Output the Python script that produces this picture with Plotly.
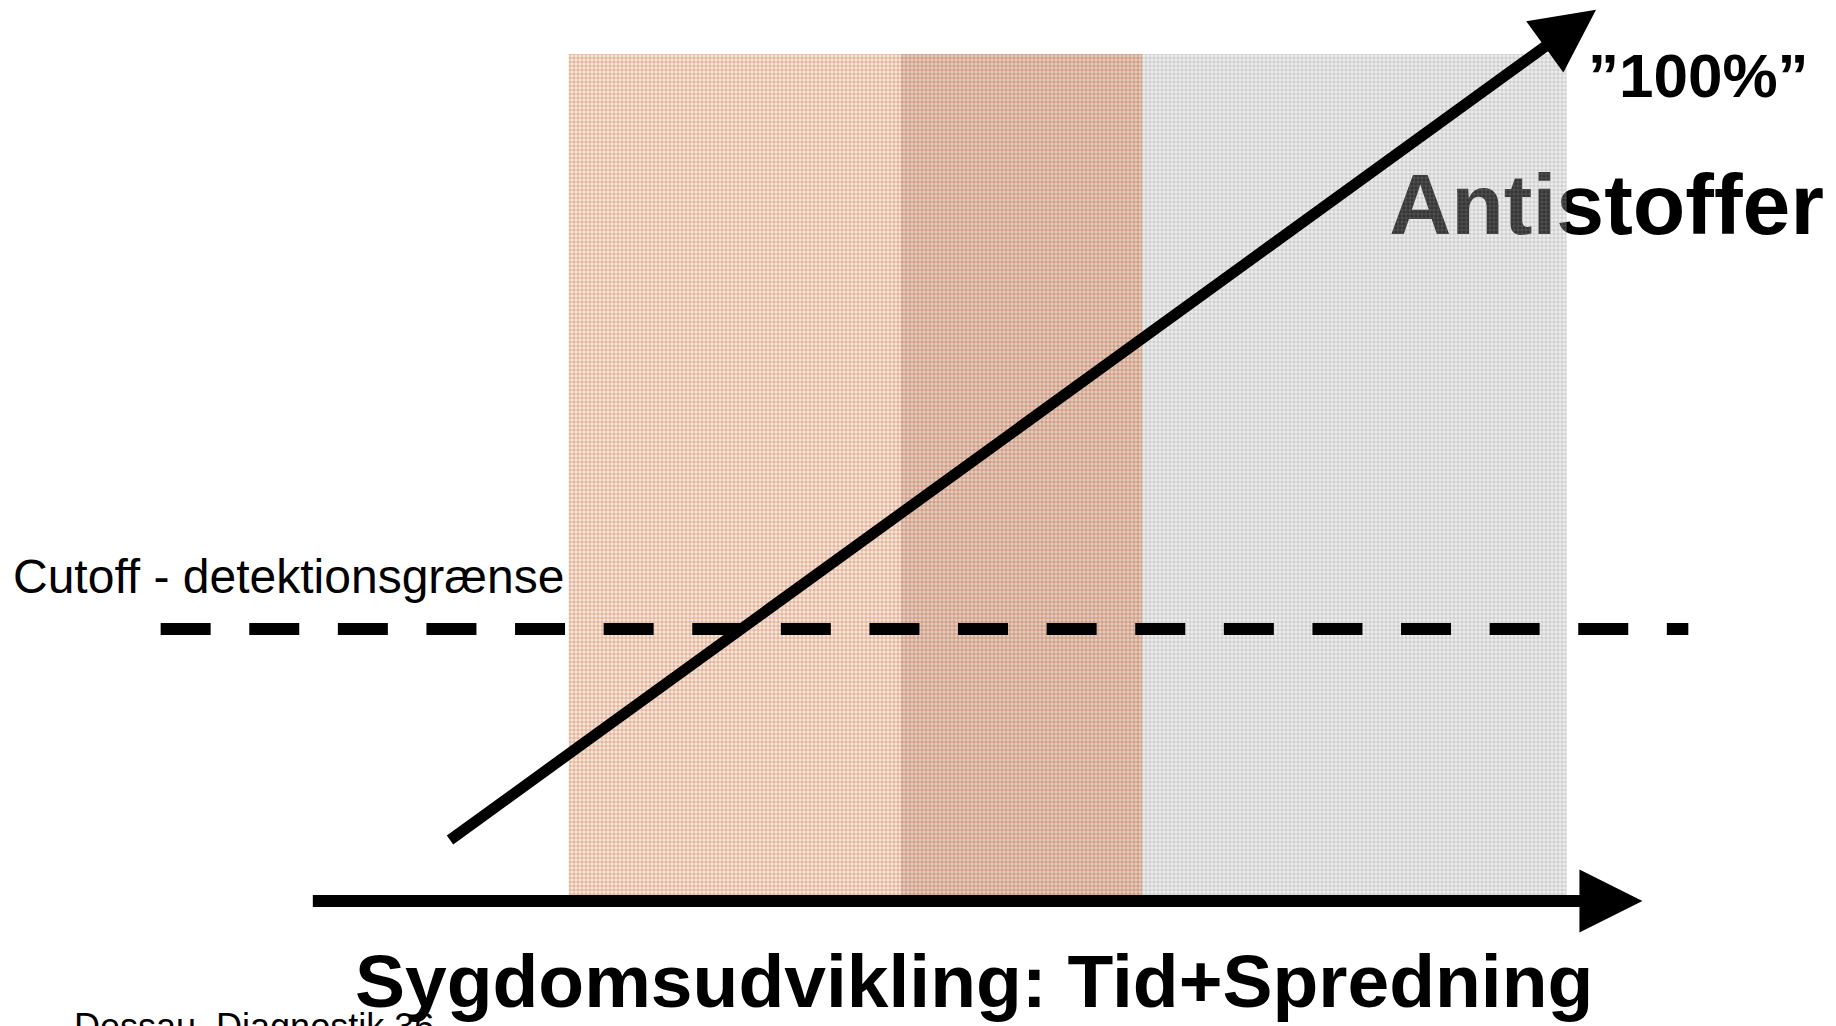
import plotly.graph_objects as go

# ---- data (time units on x, antibody level in % on y) ----
phase_start = [0.0, 3.33, 5.75]
phase_end = [3.33, 5.75, 10.0]
phase_top = [100, 100, 100]

antibody_time = [-1.205, 10.295]     # tail, tip of the antibody arrow
antibody_level = [7.08, 105.24]

time_axis_time = [-2.58, 10.76]      # tail, tip of the time axis arrow
time_axis_level = [0.0, 0.0]

cutoff_time = [-4.09, 11.22]
cutoff_level = [32.1, 32.1]

label_cutoff = "Cutoff - detektionsgrænse"
label_100 = "\u201d100%\u201d"
label_antibody = "Antistoffer"
label_xaxis = "Sygdomsudvikling: Tid+Spredning"
label_footer = "Dessau, Diagnostik 36"

# ---- styles ----
FONT = "Liberation Sans, Arial, Helvetica, sans-serif"
phase_fg = ["#bf5a2c", "#a44820", "#8a8a8a"]
phase_fgop = [0.6, 0.6, 0.5]
phase_bg = ["rgba(238,196,170,0.42)", "rgba(200,142,110,0.45)", "rgba(190,190,190,0.28)"]

X_RANGE = [-5.7, 12.7]
Y_RANGE = [-14.76, 106.38]

fig = go.Figure()

# antibody label (drawn below the shaded phases, as in the reference)
fig.add_trace(go.Scatter(
    x=[10.40], y=[81.3], mode="text", text=[label_antibody],
    textposition="middle center",
    textfont=dict(family=FONT, size=86, color="black", weight="bold"),
    hoverinfo="skip", showlegend=False,
))

# shaded phases with a fine grid pattern
for xs, xe, top, fg, fgop, bg in zip(phase_start, phase_end, phase_top, phase_fg, phase_fgop, phase_bg):
    fig.add_trace(go.Scatter(
        x=[xs, xe, xe, xs, xs], y=[0, 0, top, top, 0],
        mode="lines", line=dict(width=0), fill="toself",
        fillcolor=bg,
        fillpattern=dict(shape="+", size=4, solidity=0.3, fgcolor=fg, fgopacity=fgop, bgcolor=bg),
        hoverinfo="skip", showlegend=False,
    ))

# cutoff dashed line
fig.add_trace(go.Scatter(
    x=cutoff_time, y=cutoff_level, mode="lines",
    line=dict(color="black", width=12, dash="50px,38.6px"),
    hoverinfo="skip", showlegend=False,
))

annotations = [
    # antibody arrow
    dict(x=antibody_time[1], y=antibody_level[1], ax=antibody_time[0], ay=antibody_level[0],
         xref="x", yref="y", axref="x", ayref="y", text="", showarrow=True,
         arrowhead=2, arrowwidth=11, arrowsize=1.15, arrowcolor="black"),
    # time axis arrow
    dict(x=time_axis_time[1], y=time_axis_level[1], ax=time_axis_time[0], ay=time_axis_level[0],
         xref="x", yref="y", axref="x", ayref="y", text="", showarrow=True,
         arrowhead=2, arrowwidth=12, arrowsize=1.05, arrowcolor="black"),
    dict(x=-5.59, y=38.37, xref="x", yref="y", text=label_cutoff, showarrow=False,
         xanchor="left", yanchor="middle",
         font=dict(family=FONT, size=48, color="black")),
    dict(x=10.19, y=97.5, xref="x", yref="y", text=label_100, showarrow=False,
         xanchor="left", yanchor="middle",
         font=dict(family=FONT, size=62, color="black", weight="bold")),
    dict(x=4.06, y=-9.5, xref="x", yref="y", text=label_xaxis, showarrow=False,
         xanchor="center", yanchor="middle",
         font=dict(family=FONT, size=75, color="black", weight="bold")),
    dict(x=72 / 1836, y=0.0, xref="paper", yref="paper", text=label_footer, showarrow=False,
         xanchor="left", yanchor="middle",
         font=dict(family=FONT, size=36, color="black")),
]

fig.update_layout(
    width=1836, height=1026, autosize=False,
    margin=dict(l=0, r=0, t=0, b=0, pad=0),
    paper_bgcolor="white", plot_bgcolor="white",
    xaxis=dict(range=X_RANGE, visible=False, fixedrange=True),
    yaxis=dict(range=Y_RANGE, visible=False, fixedrange=True),
    annotations=annotations,
    showlegend=False,
)

fig.write_html("out.html", config={"displayModeBar": False},
               post_script="document.body.style.margin='0';document.body.style.overflow='hidden';")
